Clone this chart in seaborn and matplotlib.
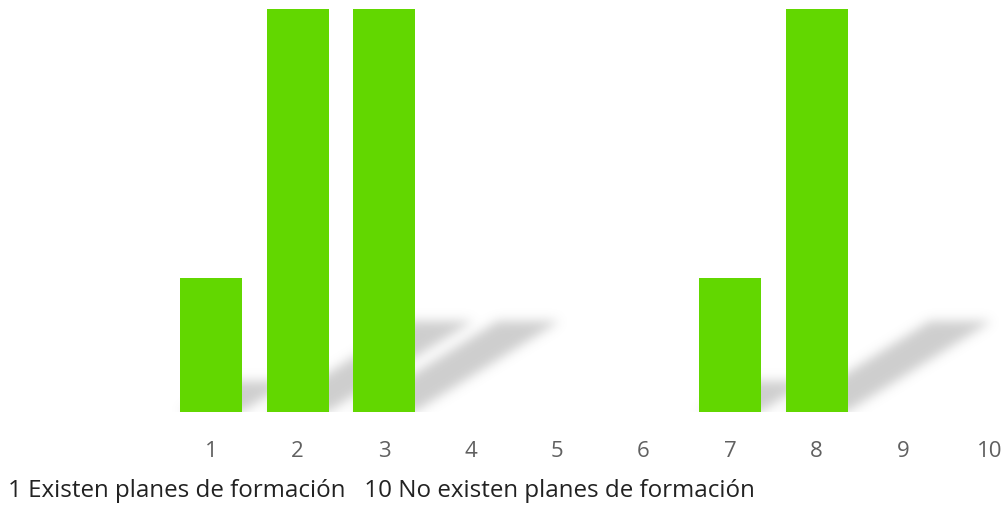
import numpy as np
import pandas as pd
import matplotlib
matplotlib.use("Agg")
import matplotlib.pyplot as plt
import seaborn as sns

# ------------------------------------------------------------------
# Data
# ------------------------------------------------------------------
categories = ["1", "2", "3", "4", "5", "6", "7", "8", "9", "10"]
values = [1, 3, 3, 0, 0, 0, 1, 3, 0, 0]
footer = "1 Existen planes de formación   10 No existen planes de formación"

df = pd.DataFrame({"cat": categories, "val": values})

sns.set_style("white")
plt.rcParams["font.family"] = ["Open Sans", "DejaVu Sans"]

W, H = 1006, 507
fig = plt.figure(figsize=(W / 100, H / 100), dpi=100)
base_px = 412
ax = fig.add_axes([0, (H - base_px) / H, 1, base_px / H])

step = 86.5          # px per category
x0_px = 211.0        # px of first category
xmin = -x0_px / step
xmax = (W - x0_px) / step
ymax = base_px / 134.5
bar_w = 62 / step

# ------------------------------------------------------------------
# Diagonal blurred shadows
# ------------------------------------------------------------------
nx, ny = W, base_px
xs = np.linspace(xmin, xmax, nx)
ys = np.linspace(0, ymax, ny)
X, Y = np.meshgrid(xs, ys)
sx, sy = 0.556, 0.224
mask = np.zeros_like(X)
for i, v in enumerate(values):
    if v <= 0:
        continue
    inside = (Y >= 0) & (Y <= sy * v)
    xr = X - Y * (sx / sy)
    inside &= (xr >= i - bar_w / 2) & (xr <= i + bar_w / 2)
    mask[inside] = 1.0

sigma = 5.5
k = np.arange(-16, 17)
kern = np.exp(-k ** 2 / (2 * sigma ** 2))
kern /= kern.sum()
mask = np.apply_along_axis(lambda r: np.convolve(r, kern, mode="same"), 1, mask)
mask = np.apply_along_axis(lambda c: np.convolve(c, kern, mode="same"), 0, mask)

rgba = np.zeros((ny, nx, 4))
rgba[..., :3] = 0.6
rgba[..., 3] = mask * 0.48
ax.imshow(rgba, extent=(xmin, xmax, 0, ymax), origin="lower",
          aspect="auto", zorder=0, interpolation="bilinear")

# ------------------------------------------------------------------
# Bars
# ------------------------------------------------------------------
sns.barplot(data=df, x="cat", y="val", color="#62d700", saturation=1,
            width=bar_w, ax=ax, zorder=2, linewidth=0)

ax.set_xlim(xmin, xmax)
ax.set_ylim(0, ymax)
ax.set_xlabel("")
ax.set_ylabel("")
ax.set_yticks([])
ax.tick_params(axis="x", length=0, pad=21, labelsize=16, labelcolor="#606060")
sns.despine(ax=ax, left=True, bottom=True)

fig.text(8 / W, 1 - 491 / H, footer, fontsize=17.4, color="#222222",
         ha="left", va="center")

fig.savefig("out.png", dpi=100)
